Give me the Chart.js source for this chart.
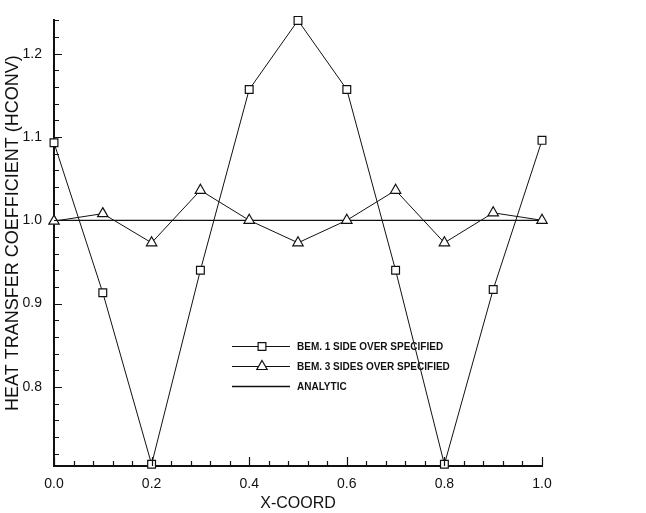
<!DOCTYPE html>
<html>
<head>
<meta charset="utf-8">
<script src="https://cdn.jsdelivr.net/npm/chart.js@4/dist/chart.umd.min.js"></script>
<style>
  html, body { margin: 0; padding: 0; background: #ffffff; }
  #wrap { width: 646px; height: 513px; position: relative; }
</style>
</head>
<body>
<div id="wrap"><canvas id="chart" width="646" height="513"></canvas></div>
<script>
// Sample positions along the boundary
const xCoord = [0.0, 0.1, 0.2, 0.3, 0.4, 0.5, 0.6, 0.7, 0.8, 0.9, 1.0];
// BEM solution, one side over-specified
const bem1Side = [1.093, 0.913, 0.707, 0.940, 1.157, 1.240, 1.157, 0.940, 0.707, 0.917, 1.096];
// BEM solution, three sides over-specified
const bem3Sides = [0.999, 1.008, 0.973, 1.036, 1.000, 0.973, 1.000, 1.036, 0.973, 1.009, 1.000];
// Analytic solution (constant)
const analyticX = [0.0, 1.0];
const analyticY = [1.0, 1.0];

const seriesNames = ['BEM. 1 SIDE OVER SPECIFIED', 'BEM. 3 SIDES OVER SPECIFIED', 'ANALYTIC'];
const xTitle = 'X-COORD';
const yTitle = 'HEAT TRANSFER COEFFICIENT (HCONV)';
const xTickValues = [0.0, 0.2, 0.4, 0.6, 0.8, 1.0];
const yTickValues = [0.8, 0.9, 1.0, 1.1, 1.2];
const xMinorStep = 0.04;
const yMinorStep = 0.02;

const INK = '#111111';
const FONT = "'Liberation Sans', Arial, Helvetica, sans-serif";

const pts = (xs, ys) => xs.map((x, i) => ({ x: x, y: ys[i] }));

// Inward tick marks on the left and bottom axes
const innerTicks = {
  id: 'innerTicks',
  afterDatasetsDraw(chart) {
    const { ctx, scales: { x, y } } = chart;
    const x0 = x.left, yb = y.bottom;
    ctx.save();
    ctx.strokeStyle = INK;
    ctx.lineWidth = 1.2;
    ctx.beginPath();
    for (let i = 0; ; i++) {
      const v = +(x.min + i * xMinorStep).toFixed(4);
      if (v > x.max + 1e-9) break;
      const px = Math.round(x.getPixelForValue(v)) + 0.5;
      const major = Math.abs(v / 0.2 - Math.round(v / 0.2)) < 1e-6;
      const len = major ? 9 : 5;
      ctx.moveTo(px, yb);
      ctx.lineTo(px, yb - len);
    }
    const start = Math.ceil(y.min / yMinorStep - 1e-9);
    for (let k = start; ; k++) {
      const v = +(k * yMinorStep).toFixed(4);
      if (v > y.max + 1e-9) break;
      const py = Math.round(y.getPixelForValue(v)) + 0.5;
      const major = Math.abs(v / 0.1 - Math.round(v / 0.1)) < 1e-6;
      const len = major ? 8 : 5;
      ctx.moveTo(x0, py);
      ctx.lineTo(x0 + len, py);
    }
    ctx.stroke();
    ctx.restore();
  }
};

// Rotated y-axis title, set slightly above the axis midpoint
const yAxisTitle = {
  id: 'yAxisTitle',
  afterDraw(chart) {
    const { ctx, scales: { y } } = chart;
    ctx.save();
    ctx.translate(13, (y.top + y.bottom) / 2 - 10);
    ctx.rotate(-Math.PI / 2);
    ctx.fillStyle = INK;
    ctx.font = "18px " + FONT;
    ctx.textAlign = 'center';
    ctx.textBaseline = 'middle';
    ctx.fillText(yTitle, 0, 0);
    ctx.restore();
  }
};

// Legend drawn inside the plotting area
const innerLegend = {
  id: 'innerLegend',
  afterDraw(chart) {
    const { ctx } = chart;
    const lineX0 = 232, lineX1 = 290, markX = 262, textX = 297;
    const rowY = [346, 366, 386];
    ctx.save();
    chart.data.datasets.forEach((ds, i) => {
      const yy = rowY[i] + 0.5;
      ctx.strokeStyle = ds.borderColor;
      ctx.lineWidth = ds.borderWidth;
      ctx.beginPath();
      ctx.moveTo(lineX0, yy);
      ctx.lineTo(lineX1, yy);
      ctx.stroke();
      if (ds.pointStyle && ds.pointRadius > 0) {
        ctx.fillStyle = ds.pointBackgroundColor;
        ctx.strokeStyle = ds.pointBorderColor;
        ctx.lineWidth = ds.pointBorderWidth;
        Chart.helpers.drawPoint(ctx, {
          pointStyle: ds.pointStyle,
          radius: ds.pointRadius,
          rotation: 0,
          borderWidth: ds.pointBorderWidth
        }, markX, yy);
      }
      ctx.fillStyle = INK;
      ctx.font = "bold 10px " + FONT;
      ctx.textBaseline = 'middle';
      ctx.textAlign = 'left';
      ctx.fillText(ds.label, textX, yy + 0.5);
    });
    ctx.restore();
  }
};

new Chart(document.getElementById('chart'), {
  type: 'line',
  data: {
    datasets: [
      {
        label: seriesNames[0],
        data: pts(xCoord, bem1Side),
        borderColor: INK,
        borderWidth: 1,
        pointStyle: 'rect',
        pointRadius: 5.5,
        pointBackgroundColor: '#ffffff',
        pointBorderColor: INK,
        pointBorderWidth: 1.2,
        tension: 0,
        fill: false,
        clip: false
      },
      {
        label: seriesNames[1],
        data: pts(xCoord, bem3Sides),
        borderColor: INK,
        borderWidth: 1,
        pointStyle: 'triangle',
        pointRadius: 6,
        pointBackgroundColor: '#ffffff',
        pointBorderColor: INK,
        pointBorderWidth: 1.2,
        tension: 0,
        fill: false,
        clip: false
      },
      {
        label: seriesNames[2],
        data: pts(analyticX, analyticY),
        borderColor: INK,
        borderWidth: 1.3,
        pointRadius: 0,
        tension: 0,
        fill: false,
        clip: false
      }
    ]
  },
  options: {
    responsive: false,
    animation: false,
    events: [],
    layout: { padding: { top: 14, right: 104, left: 0, bottom: 0 } },
    plugins: {
      legend: { display: false },
      tooltip: { enabled: false }
    },
    scales: {
      x: {
        type: 'linear',
        min: 0,
        max: 1,
        afterBuildTicks(scale) { scale.ticks = xTickValues.map(v => ({ value: v })); },
        afterFit(scale) { scale.height = 47; },
        grid: { display: true, drawOnChartArea: false, drawTicks: false },
        border: { display: true, color: INK, width: 2 },
        ticks: {
          color: INK,
          padding: 10,
          maxRotation: 0,
          autoSkip: false,
          font: { family: FONT, size: 14 },
          callback: v => Number(v).toFixed(1)
        },
        title: {
          display: true,
          text: xTitle,
          color: INK,
          font: { family: FONT, size: 16 },
          padding: { top: 5, bottom: 0 }
        }
      },
      y: {
        type: 'linear',
        min: 0.705,
        max: 1.24,
        afterBuildTicks(scale) { scale.ticks = yTickValues.map(v => ({ value: v })); },
        afterFit(scale) { scale.width = 54; },
        grid: { display: true, drawOnChartArea: false, drawTicks: false },
        border: { display: true, color: INK, width: 2 },
        ticks: {
          color: INK,
          padding: 12,
          autoSkip: false,
          font: { family: FONT, size: 14 },
          callback: v => Number(v).toFixed(1)
        }
      }
    }
  },
  plugins: [innerTicks, yAxisTitle, innerLegend]
});
</script>
</body>
</html>
